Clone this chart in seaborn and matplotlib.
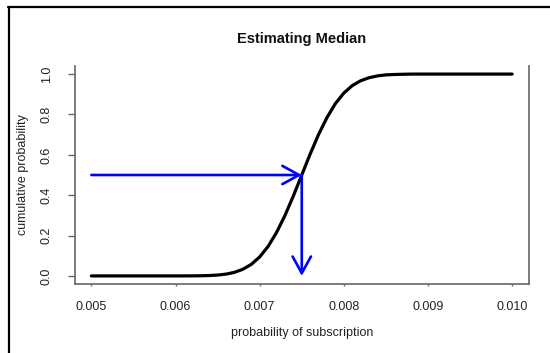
import matplotlib
matplotlib.use("Agg")
import matplotlib.pyplot as plt
from matplotlib.lines import Line2D
import numpy as np
import pandas as pd
import seaborn as sns

# values
prob_subscription = [0.0050, 0.0055, 0.0060, 0.0061, 0.0062, 0.0063, 0.0064, 0.0065,
                     0.0066, 0.0067, 0.0068, 0.0069, 0.0070, 0.0071, 0.0072, 0.0073,
                     0.0074, 0.0075, 0.0076, 0.0077, 0.0078, 0.0079, 0.0080, 0.0081,
                     0.0082, 0.0083, 0.0084, 0.0085, 0.0086, 0.0087, 0.0088, 0.0090,
                     0.0095, 0.0100]
cum_prob = [0.0, 0.0, 0.0, 0.0001, 0.0003, 0.0008, 0.0019, 0.0043,
            0.0089, 0.0176, 0.0329, 0.0571, 0.094, 0.146, 0.215, 0.299,
            0.396, 0.500, 0.604, 0.701, 0.785, 0.854, 0.906, 0.943,
            0.967, 0.982, 0.991, 0.996, 0.998, 0.999, 1.0, 1.0,
            1.0, 1.0]
median_x = 0.0075
median_y = 0.5
arrow_start_x = 0.005

x_ticks = [0.005, 0.006, 0.007, 0.008, 0.009, 0.010]
x_ticklabels = ["0.005", "0.006", "0.007", "0.008", "0.009", "0.010"]
y_ticks = [0.0, 0.2, 0.4, 0.6, 0.8, 1.0]
y_ticklabels = ["0.0", "0.2", "0.4", "0.6", "0.8", "1.0"]

df = pd.DataFrame({"x": prob_subscription, "y": cum_prob})

sns.set_style("white")
plt.rcParams['font.family'] = ['Liberation Sans', 'DejaVu Sans']

fig = plt.figure(figsize=(5.5, 3.53), dpi=100)
ax = fig.add_axes([0.1355, 0.1955, 0.9618 - 0.1355, 0.813 - 0.1955])

sns.lineplot(data=df, x="x", y="y", ax=ax, color="black", linewidth=2.3)

# arrows to the median
arrow_kw = dict(arrowstyle="->,head_length=0.6,head_width=0.33", color="#0000ff",
                lw=1.9, shrinkA=0, shrinkB=0, mutation_scale=20)
ax.annotate("", xy=(median_x, median_y), xytext=(arrow_start_x, median_y), arrowprops=arrow_kw)
ax.annotate("", xy=(median_x, 0.0), xytext=(median_x, median_y), arrowprops=arrow_kw)

ax.set_xlim(0.0048, 0.0102)
ax.set_ylim(-0.04, 1.04)
ax.set_xticks(x_ticks)
ax.set_xticklabels(x_ticklabels)
ax.set_yticks(y_ticks)
ax.set_yticklabels(y_ticklabels, rotation=90, va="center")
ax.set_xlabel("")
ax.set_ylabel("")

for side in ["left", "right", "bottom"]:
    ax.spines[side].set_color("#666666")
    ax.spines[side].set_linewidth(1.2)
ax.spines["top"].set_visible(False)

ax.tick_params(axis="x", direction="out", length=1.5, width=1, color="#666666",
               pad=10.5, labelsize=9, labelcolor="#222222")
ax.tick_params(axis="y", direction="out", length=5, width=1, color="#666666",
               pad=10.5, labelsize=9, labelcolor="#222222")
ax.tick_params(bottom=True, left=True)

fig.text(302 / 550, 1 - 38.5 / 353, "Estimating Median", ha="center", va="center",
         fontsize=10.5, fontweight="bold", color="#111111")
fig.text(302 / 550, 1 - 333 / 353, "probability of subscription", ha="center", va="center",
         fontsize=9, color="#222222")
fig.text(23 / 550, 1 - 175 / 353, "cumulative probability", ha="center", va="center",
         rotation=90, fontsize=9, color="#222222")

# screenshot frame on top and left
fig.add_artist(Line2D([8 / 550, 1.0], [1 - 7 / 353, 1 - 7 / 353], color="black", lw=1.6,
                      transform=fig.transFigure))
fig.add_artist(Line2D([9 / 550, 9 / 550], [1 - 7 / 353, 0.0], color="black", lw=1.6,
                      transform=fig.transFigure))

fig.savefig("out.png", dpi=100)
